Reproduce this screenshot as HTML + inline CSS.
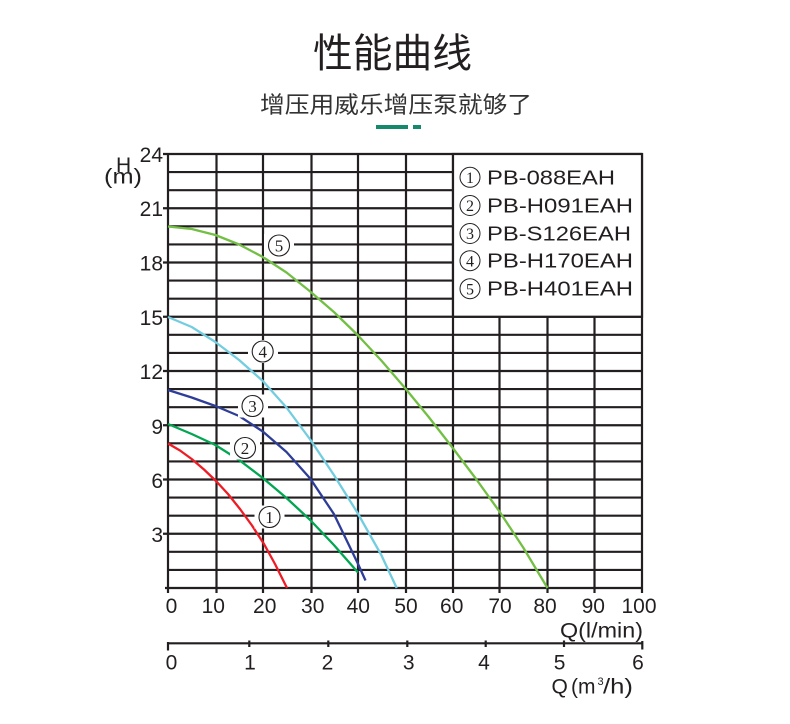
<!DOCTYPE html>
<html><head><meta charset="utf-8"><style>
html,body{margin:0;padding:0;background:#fff;}
svg{display:block;}
</style></head><body>
<svg width="790" height="724" viewBox="0 0 790 724" xmlns="http://www.w3.org/2000/svg">
<rect width="790" height="724" fill="#fff"/>
<!-- Title -->
<text x="392.5" y="67" font-family="'Liberation Sans','Noto Sans CJK SC',sans-serif" font-size="40" fill="#231f20" text-anchor="middle" textLength="159" lengthAdjust="spacingAndGlyphs">性能曲线</text>
<text x="396" y="112.5" font-family="'Liberation Sans','Noto Sans CJK SC',sans-serif" font-size="23" fill="#333" text-anchor="middle" textLength="272" lengthAdjust="spacingAndGlyphs">增压用威乐增压泵就够了</text>
<rect x="376" y="125" width="32" height="4" fill="#14896b"/>
<rect x="413" y="125" width="8" height="4" fill="#14896b"/>

<g stroke="#231f20" stroke-width="2.2" fill="none">
<!-- horizontal grid -->
<line x1="165" y1="588" x2="642" y2="588"/>
<line x1="168" y1="569.92" x2="642" y2="569.92"/>
<line x1="168" y1="551.83" x2="642" y2="551.83"/>
<line x1="163" y1="533.75" x2="642" y2="533.75"/>
<line x1="168" y1="515.67" x2="642" y2="515.67"/>
<line x1="168" y1="497.58" x2="642" y2="497.58"/>
<line x1="163" y1="479.5" x2="642" y2="479.5"/>
<line x1="168" y1="461.42" x2="642" y2="461.42"/>
<line x1="168" y1="443.33" x2="642" y2="443.33"/>
<line x1="163" y1="425.25" x2="642" y2="425.25"/>
<line x1="168" y1="407.17" x2="642" y2="407.17"/>
<line x1="168" y1="389.08" x2="642" y2="389.08"/>
<line x1="163" y1="371" x2="642" y2="371"/>
<line x1="168" y1="352.92" x2="642" y2="352.92"/>
<line x1="168" y1="334.83" x2="642" y2="334.83"/>
<line x1="163" y1="316.75" x2="642" y2="316.75"/>
<line x1="168" y1="298.67" x2="642" y2="298.67"/>
<line x1="168" y1="280.58" x2="642" y2="280.58"/>
<line x1="163" y1="262.5" x2="642" y2="262.5"/>
<line x1="168" y1="244.42" x2="642" y2="244.42"/>
<line x1="168" y1="226.33" x2="642" y2="226.33"/>
<line x1="163" y1="208.25" x2="642" y2="208.25"/>
<line x1="168" y1="190.17" x2="642" y2="190.17"/>
<line x1="168" y1="172.08" x2="642" y2="172.08"/>
<line x1="163" y1="154" x2="642" y2="154"/>
<!-- vertical grid -->
<line x1="168" y1="153" x2="168" y2="593"/>
<line x1="216.5" y1="154" x2="216.5" y2="593"/>
<line x1="263" y1="154" x2="263" y2="593"/>
<line x1="311.5" y1="154" x2="311.5" y2="593"/>
<line x1="358" y1="154" x2="358" y2="593"/>
<line x1="406" y1="154" x2="406" y2="593"/>
<line x1="453" y1="154" x2="453" y2="593"/>
<line x1="499.5" y1="154" x2="499.5" y2="593"/>
<line x1="547.5" y1="154" x2="547.5" y2="593"/>
<line x1="594.5" y1="154" x2="594.5" y2="593"/>
<line x1="642" y1="153" x2="642" y2="593"/>
</g>

<!-- legend box -->
<rect x="453" y="154" width="189" height="162.75" fill="#fff" stroke="#231f20" stroke-width="2.2"/>

<!-- curves -->
<g fill="none" stroke-width="2.3" stroke-linejoin="round" stroke-linecap="butt">
<polyline stroke="#72bf44" points="168,226.5 191.7,229 215.4,235 239.1,244.5 262.8,257 286.5,272.5 310.2,291.5 333.9,312 357.6,335 381.3,360.5 405,388 428.7,417 452.4,447.5 476.1,479 499.8,512 523.5,548 547.5,588"/>
<polyline stroke="#72cde0" points="168,317 191.7,327 215.4,342 239.1,360 262.8,381 286.5,407.5 310.2,439.5 333.9,475 357.6,513 381.3,555 396.7,588"/>
<polyline stroke="#2e3d98" points="168,390 191.7,397.5 215.4,406 239.1,416 262.8,431.5 286.5,452 310.2,478.5 333.9,514 357.6,563 365.5,580.5"/>
<polyline stroke="#00a651" points="168,424 191.7,434 215.4,445 239.1,460 262.8,478 286.5,498 310.2,520 333.9,545 358,572.5"/>
<polyline stroke="#ee1c24" points="168,443.5 180,450.5 191.7,459 204,469.5 216,481 228,494 240,509 252,525.5 264,544 275,564 287,588"/>
</g>

<!-- curve labels -->
<g fill="#fff">
<rect x="264" y="234" width="30" height="23"/>
<rect x="248" y="340" width="30" height="23"/>
<rect x="238" y="394.5" width="30" height="23"/>
<rect x="230" y="436.5" width="30" height="23"/>
<rect x="254.5" y="505.5" width="30" height="23"/>
</g>
<g fill="none" stroke="#231f20" stroke-width="1.1">
<circle cx="279" cy="245.5" r="10.5"/>
<circle cx="262.7" cy="351.5" r="10.5"/>
<circle cx="252.5" cy="406" r="10.5"/>
<circle cx="245" cy="448" r="10.5"/>
<circle cx="269.5" cy="517" r="10.5"/>
</g>
<g font-family="'Liberation Serif',serif" font-size="17" fill="#231f20" text-anchor="middle">
<text x="279" y="251.5">5</text>
<text x="262.7" y="357.5">4</text>
<text x="252.5" y="412">3</text>
<text x="245" y="454">2</text>
<text x="269.5" y="523">1</text>
</g>

<!-- legend -->
<g fill="none" stroke="#231f20" stroke-width="1">
<circle cx="470" cy="177.3" r="10"/>
<circle cx="470" cy="205.5" r="10"/>
<circle cx="470" cy="233.5" r="10"/>
<circle cx="470" cy="260.7" r="10"/>
<circle cx="470" cy="288.7" r="10"/>
</g>
<g font-family="'Liberation Serif',serif" font-size="16" fill="#231f20" text-anchor="middle">
<text x="470" y="183">1</text>
<text x="470" y="211.2">2</text>
<text x="470" y="239.2">3</text>
<text x="470" y="266.4">4</text>
<text x="470" y="294.4">5</text>
</g>
<g font-family="'Liberation Sans',sans-serif" font-size="20" fill="#231f20">
<text x="487" y="184.3" textLength="128" lengthAdjust="spacingAndGlyphs">PB-088EAH</text>
<text x="487" y="212.5" textLength="146" lengthAdjust="spacingAndGlyphs">PB-H091EAH</text>
<text x="487" y="240.5" textLength="144" lengthAdjust="spacingAndGlyphs">PB-S126EAH</text>
<text x="487" y="267.7" textLength="146" lengthAdjust="spacingAndGlyphs">PB-H170EAH</text>
<text x="487" y="295.7" textLength="146" lengthAdjust="spacingAndGlyphs">PB-H401EAH</text>
</g>

<!-- Y axis labels -->
<g font-family="'Liberation Sans',sans-serif" font-size="21" fill="#231f20" text-anchor="end">
<text x="163" y="162">24</text>
<text x="163" y="216">21</text>
<text x="163" y="270.5">18</text>
<text x="163" y="324.8">15</text>
<text x="163" y="379">12</text>
<text x="163" y="434">9</text>
<text x="163" y="488">6</text>
<text x="163" y="542">3</text>
</g>
<g font-family="'Liberation Sans',sans-serif" font-size="21" fill="#231f20">
<text x="116" y="172">H</text>
<text x="104" y="183.5" textLength="38" lengthAdjust="spacingAndGlyphs">(m)</text>
</g>

<!-- X axis labels (l/min) -->
<g font-family="'Liberation Sans',sans-serif" font-size="21" fill="#231f20" text-anchor="middle">
<text x="171.5" y="613">0</text>
<text x="213.3" y="613">10</text>
<text x="264.7" y="613">20</text>
<text x="312.7" y="613">30</text>
<text x="358.3" y="613">40</text>
<text x="406" y="613">50</text>
<text x="451.7" y="613">60</text>
<text x="500" y="613">70</text>
<text x="545" y="613">80</text>
<text x="593.3" y="613">90</text>
<text x="639" y="613">100</text>
</g>
<text x="560" y="637.5" font-family="'Liberation Sans',sans-serif" font-size="21" fill="#231f20" textLength="83" lengthAdjust="spacingAndGlyphs">Q(l/min)</text>

<!-- second axis (m3/h) -->
<g stroke="#231f20" stroke-width="2.2" fill="none">
<line x1="167" y1="643.3" x2="643" y2="643.3"/>
<line x1="168" y1="642" x2="168" y2="650.5"/>
<line x1="249.3" y1="640.5" x2="249.3" y2="647"/>
<line x1="328.3" y1="640.5" x2="328.3" y2="647"/>
<line x1="407.3" y1="640.5" x2="407.3" y2="647"/>
<line x1="485.7" y1="640.5" x2="485.7" y2="647"/>
<line x1="564" y1="640.5" x2="564" y2="647"/>
<line x1="642.3" y1="641" x2="642.3" y2="649.5"/>
</g>
<g font-family="'Liberation Sans',sans-serif" font-size="21" fill="#231f20" text-anchor="middle">
<text x="171.5" y="669.5">0</text>
<text x="250" y="669.5">1</text>
<text x="327.5" y="669.5">2</text>
<text x="408.7" y="669.5">3</text>
<text x="484" y="669.5">4</text>
<text x="559.6" y="669.5">5</text>
<text x="638" y="669.5">6</text>
</g>
<g font-family="'Liberation Sans',sans-serif" font-size="21" fill="#231f20">
<text x="551.5" y="693.5">Q</text>
<text x="571" y="693.5">(m</text>
<text x="597.5" y="685" font-size="11">3</text>
<text x="603" y="693.5" textLength="30" lengthAdjust="spacingAndGlyphs">/h)</text>
</g>
</svg>
</body></html>
